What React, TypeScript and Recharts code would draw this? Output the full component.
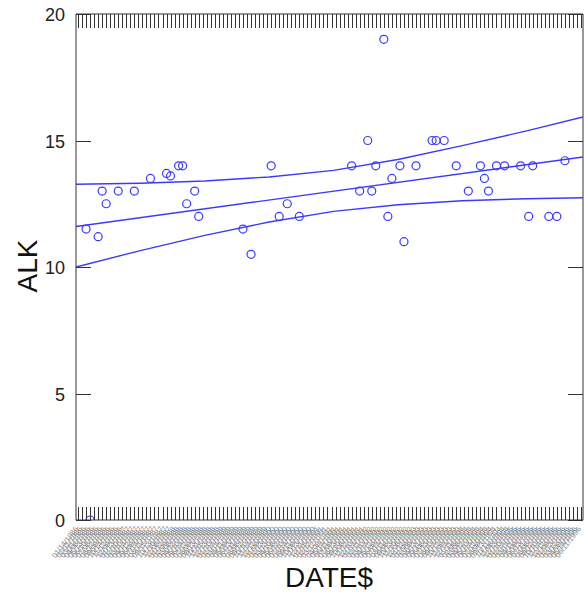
import React from 'react';
import {
  ComposedChart,
  Scatter,
  Line,
  XAxis,
  YAxis,
  ReferenceLine,
} from 'recharts';

// Sampling dates (one category per date on the x axis)
const DATES = (
  '01/14/1986 02/11/1986 03/11/1986 04/08/1986 05/13/1986 06/10/1986 07/08/1986 08/12/1986 09/09/1986 10/14/1986 11/12/1986 12/09/1986 ' +
  '01/13/1987 02/10/1987 03/10/1987 04/14/1987 05/12/1987 06/09/1987 07/14/1987 08/11/1987 09/15/1987 10/13/1987 11/10/1987 12/08/1987 ' +
  '01/12/1988 02/09/1988 03/08/1988 04/12/1988 05/10/1988 06/14/1988 07/12/1988 08/09/1988 09/13/1988 10/11/1988 11/15/1988 12/13/1988 ' +
  '01/10/1989 02/14/1989 03/14/1989 04/11/1989 05/09/1989 06/13/1989 07/11/1989 08/08/1989 09/12/1989 10/10/1989 11/14/1989 12/12/1989 ' +
  '01/09/1990 02/13/1990 03/13/1990 04/10/1990 05/08/1990 06/12/1990 07/10/1990 08/14/1990 09/11/1990 10/09/1990 11/13/1990 12/11/1990 ' +
  '01/15/1991 02/12/1991 03/12/1991 04/09/1991 05/14/1991 06/11/1991 07/09/1991 08/13/1991 09/10/1991 10/08/1991 11/12/1991 12/10/1991 ' +
  '01/14/1992 02/11/1992 03/10/1992 04/14/1992 05/12/1992 06/09/1992 07/14/1992 08/11/1992 09/08/1992 10/13/1992 11/10/1992 12/08/1992 ' +
  '01/12/1993 02/09/1993 03/09/1993 04/13/1993 05/11/1993 06/08/1993 07/13/1993 08/10/1993 09/14/1993 10/12/1993 11/09/1993 12/14/1993 ' +
  '01/11/1994 02/08/1994 03/08/1994 04/12/1994 05/10/1994 06/14/1994 07/12/1994 08/09/1994 09/13/1994 10/11/1994 11/08/1994 12/13/1994 ' +
  '01/10/1995 02/14/1995 03/14/1995 04/11/1995 05/09/1995 06/13/1995 07/11/1995 08/08/1995 09/12/1995 10/10/1995 11/14/1995 12/12/1995 ' +
  '01/09/1996 02/13/1996 03/12/1996 04/09/1996 05/14/1996 06/11/1996'
).split(' ');

// Which date each measurement belongs to, and its ALK value
const SAMPLE_IDX = [
  2, 3, 5, 6, 7, 10, 14, 18, 22, 23, 25, 26, 27, 29, 30, 41, 43, 48, 50, 52, 55,
  68, 70, 72, 73, 74, 76, 77, 78, 80, 81, 84, 88, 89, 91, 94, 97, 100, 101, 102,
  104, 106, 110, 112, 113, 117, 119, 121,
];
const ALK_VALUES = [
  11.5, 0, 11.2, 13, 12.5, 13, 13, 13.5, 13.7, 13.6, 14, 14, 12.5, 13, 12, 11.5, 10.5, 14, 12, 12.5, 12,
  14, 13, 15, 13, 14, 19, 12, 13.5, 14, 11, 14, 15, 15, 15, 14, 13, 14, 13.5, 13,
  14, 14, 14, 12, 14, 12, 12, 14.2,
];

// Fitted line and its confidence band
const FIT_X = [0, 126];
const FIT_Y = [11.6, 14.35];
const BAND_X = [0, 16, 32, 48, 64, 80, 96, 112, 126];
const UPPER_Y = [13.27, 13.31, 13.4, 13.56, 13.82, 14.25, 14.8, 15.38, 15.93];
const LOWER_Y = [10.0, 10.65, 11.25, 11.78, 12.2, 12.46, 12.62, 12.7, 12.74];

const Y_TICKS = [0, 5, 10, 15, 20];

const BLUE = '#3a3aff';
const FRAME = '#333';
const FONT = '"Liberation Sans", Arial, sans-serif';

// body margin is removed below, so these are page pixels
const WIDTH = 584;
const HEIGHT = 592;
const PLOT_LEFT = 76;
const PLOT_TOP = 14;
const PLOT_RIGHT = 583;
const PLOT_BOTTOM = 520;

const points = SAMPLE_IDX.map((idx, k) => ({ x: idx + 0.5, alk: ALK_VALUES[k] }));
const fitData = FIT_X.map((x, k) => ({ x, y: FIT_Y[k] }));
const upperData = BAND_X.map((x, k) => ({ x, y: UPPER_Y[k] }));
const lowerData = BAND_X.map((x, k) => ({ x, y: LOWER_Y[k] }));
const xTicks = DATES.map((_, i) => i + 0.5);

const DateTick = (props: any) => {
  const { payload } = props;
  const x = Math.round(props.x) + 0.5;
  const label = DATES[Math.floor(payload.value)];
  const ty = PLOT_BOTTOM + 9;
  return (
    <g>
      <line x1={x} y1={PLOT_BOTTOM} x2={x} y2={PLOT_BOTTOM - 13} stroke={FRAME} shapeRendering="crispEdges" />
      <line x1={x} y1={PLOT_TOP} x2={x} y2={PLOT_TOP + 14} stroke={FRAME} shapeRendering="crispEdges" />
      <text
        x={x}
        y={ty}
        transform={`rotate(-52 ${x} ${ty})`}
        textAnchor="end"
        fontSize={7.5}
        fill="#7a7a7a"
        opacity={0.9}
        fontFamily={FONT}
      >
        {label}
      </text>
    </g>
  );
};

const ValueTick = (props: any) => {
  const { payload } = props;
  const y = Math.round(props.y) + 0.5;
  return (
    <g>
      <line x1={PLOT_LEFT} y1={y} x2={PLOT_LEFT + 15} y2={y} stroke={FRAME} shapeRendering="crispEdges" />
      <line x1={PLOT_RIGHT - 15} y1={y} x2={PLOT_RIGHT} y2={y} stroke={FRAME} shapeRendering="crispEdges" />
      <text
        x={PLOT_LEFT - 11}
        y={y}
        textAnchor="end"
        dominantBaseline="central"
        fontSize={18}
        fill="#222"
        fontFamily={FONT}
      >
        {payload.value}
      </text>
    </g>
  );
};

const OpenCircle = (props: any) => {
  const { cx, cy } = props;
  if (cx == null || cy == null) return null;
  return <circle cx={cx} cy={cy} r={4} fill="none" stroke={BLUE} strokeWidth={1.2} />;
};

export default function App() {
  return (
    <div style={{ position: 'relative', width: WIDTH, height: HEIGHT, overflow: 'hidden' }}>
      <style>{'html, body { margin: 0; padding: 0; overflow: hidden; }'}</style>
      <ComposedChart
        width={WIDTH}
        height={HEIGHT}
        margin={{ top: PLOT_TOP, right: WIDTH - PLOT_RIGHT, left: 0, bottom: 0 }}
      >
        <XAxis
          dataKey="x"
          type="number"
          domain={[0, DATES.length]}
          ticks={xTicks}
          interval={0}
          tick={<DateTick />}
          tickLine={false}
          axisLine={{ stroke: FRAME }}
          height={HEIGHT - PLOT_BOTTOM}
          allowDataOverflow
        />
        <YAxis
          type="number"
          domain={[0, 20]}
          ticks={Y_TICKS}
          interval={0}
          tick={<ValueTick />}
          tickLine={false}
          axisLine={{ stroke: FRAME }}
          width={PLOT_LEFT}
          allowDataOverflow
        />
        <ReferenceLine y={20} stroke={FRAME} />
        <ReferenceLine x={DATES.length} stroke={FRAME} />
        <Line data={upperData} dataKey="y" type="linear" stroke={BLUE} strokeWidth={1.4} dot={false} isAnimationActive={false} />
        <Line data={fitData} dataKey="y" type="linear" stroke={BLUE} strokeWidth={1.4} dot={false} isAnimationActive={false} />
        <Line data={lowerData} dataKey="y" type="linear" stroke={BLUE} strokeWidth={1.4} dot={false} isAnimationActive={false} />
        <Scatter data={points} dataKey="alk" shape={<OpenCircle />} isAnimationActive={false} />
      </ComposedChart>
      <svg
        width={WIDTH}
        height={HEIGHT}
        style={{ position: 'absolute', left: 0, top: 0, pointerEvents: 'none' }}
      >
        <text x={37} y={266} transform="rotate(-90 37 266)" textAnchor="middle" fontSize={28} fill="#111" fontFamily={FONT}>
          ALK
        </text>
        <text x={329} y={587} textAnchor="middle" fontSize={28} fill="#111" fontFamily={FONT}>
          DATE$
        </text>
      </svg>
    </div>
  );
}
